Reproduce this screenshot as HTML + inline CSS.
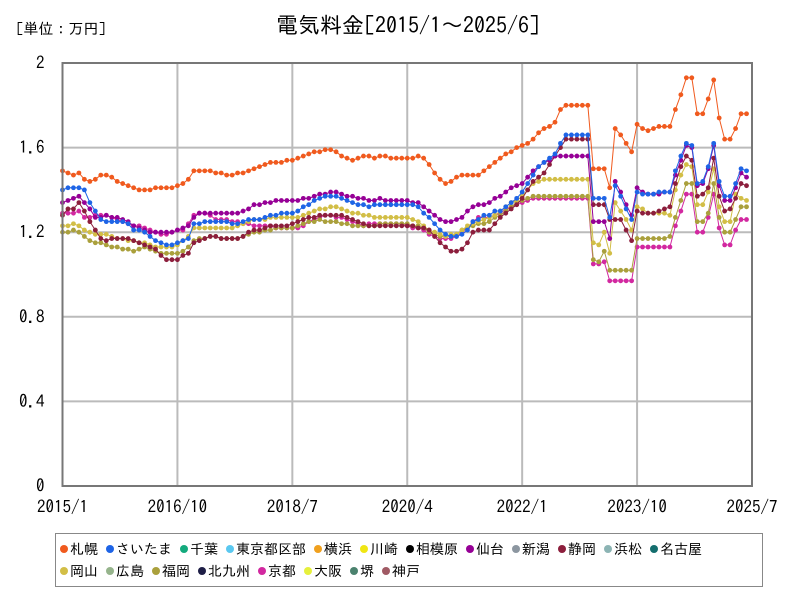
<!DOCTYPE html>
<html><head><meta charset="utf-8">
<style>
body{margin:0;background:#fff;width:800px;height:600px;overflow:hidden;font-family:"IPAGothic","Liberation Sans","Noto Sans CJK JP",sans-serif;}
#wrap{position:relative;width:800px;height:600px;}
.legend{position:absolute;left:55px;top:533px;width:708px;height:54px;border:1px solid #888;box-sizing:border-box;font-size:14px;color:#000;}
.row{position:absolute;left:4px;display:flex;gap:8px;white-space:nowrap;}
.it{display:flex;align-items:center;}
.dot{width:8px;height:8px;border-radius:50%;margin-right:2px;display:inline-block;}
svg text{font-family:"IPAGothic","Liberation Sans","Noto Sans CJK JP",sans-serif;}
</style></head><body>
<div id="wrap">
<svg id="svg" width="800" height="600" style="position:absolute;left:0;top:0">
<text x="16" y="34" font-size="15">[単位：万円]</text>
<text x="408" y="33" font-size="22" text-anchor="middle">電気料金[2015/1～2025/6]</text>
<g id="grid"></g><g id="series"></g><g id="axes"></g>
</svg>
<div class="legend">
<div class="row" style="top:8px" id="row1"></div>
<div class="row" style="top:30px" id="row2"></div>
</div>
</div>
<script>
const yTicks=[0,0.4,0.8,1.2,1.6,2];
const yTickLabels=["0","0.4","0.8","1.2","1.6","2"];
const xTickMonths=[0,21,42,63,84,105,126];
const xTickLabels=["2015/1","2016/10","2018/7","2020/4","2022/1","2023/10","2025/7"];
const legendNames=["札幌","さいたま","千葉","東京都区部","横浜","川崎","相模原","仙台","新潟","静岡","浜松","名古屋","岡山","広島","福岡","北九州","京都","大阪","堺","神戸"];
const legendColors=["#f05a1e","#1e64e6","#14aa7d","#5ac8f0","#f0a01e","#f0e614","#000000","#960096","#8c96a0","#8c1e3c","#8cb4b4","#146e6e","#d2be46","#96b48c","#aaa03c","#1e1e46","#d228a0","#e6f03c","#4b826e","#a05a64"];
const sapporo=[1.49,1.48,1.47,1.48,1.45,1.44,1.45,1.47,1.47,1.46,1.44,1.43,
1.42,1.41,1.40,1.40,1.40,1.41,1.41,1.41,1.41,1.42,1.43,1.45,
1.49,1.49,1.49,1.49,1.48,1.48,1.47,1.47,1.48,1.48,1.49,1.50,
1.51,1.52,1.53,1.53,1.53,1.54,1.54,1.55,1.56,1.57,1.58,1.58,
1.59,1.59,1.58,1.56,1.55,1.54,1.55,1.56,1.56,1.55,1.56,1.56,
1.55,1.55,1.55,1.55,1.55,1.56,1.55,1.52,1.48,1.45,1.43,1.44,
1.46,1.47,1.47,1.47,1.47,1.49,1.51,1.53,1.55,1.57,1.58,1.60,
1.61,1.62,1.64,1.67,1.69,1.70,1.72,1.78,1.80,1.80,1.80,1.80,
1.80,1.50,1.50,1.50,1.41,1.69,1.66,1.62,1.58,1.71,1.69,1.68,
1.69,1.70,1.70,1.70,1.78,1.85,1.93,1.93,1.76,1.76,1.83,1.92,
1.74,1.64,1.64,1.69,1.76,1.76];
const saitama=[1.40,1.41,1.41,1.41,1.40,1.34,1.30,1.26,1.25,1.25,1.25,1.25,
1.24,1.21,1.21,1.20,1.18,1.16,1.15,1.14,1.14,1.15,1.16,1.17,
1.24,1.24,1.25,1.25,1.25,1.25,1.25,1.24,1.24,1.25,1.26,1.26,
1.26,1.27,1.28,1.28,1.29,1.29,1.29,1.30,1.32,1.33,1.35,1.36,
1.37,1.37,1.37,1.36,1.35,1.34,1.33,1.33,1.32,1.33,1.33,1.33,
1.33,1.33,1.33,1.33,1.33,1.32,1.29,1.27,1.24,1.21,1.19,1.18,
1.18,1.19,1.21,1.25,1.26,1.28,1.28,1.30,1.30,1.32,1.34,1.36,
1.39,1.43,1.47,1.51,1.53,1.55,1.57,1.62,1.66,1.66,1.66,1.66,
1.66,1.36,1.36,1.36,1.27,1.42,1.37,1.31,1.26,1.39,1.38,1.38,
1.38,1.39,1.39,1.39,1.49,1.56,1.62,1.61,1.43,1.44,1.51,1.62,
1.44,1.37,1.37,1.43,1.50,1.49];
const sendai=[1.34,1.35,1.36,1.37,1.34,1.31,1.27,1.27,1.28,1.27,1.27,1.26,
1.25,1.23,1.22,1.21,1.20,1.20,1.20,1.20,1.20,1.21,1.22,1.23,
1.27,1.29,1.29,1.29,1.29,1.29,1.29,1.29,1.29,1.30,1.31,1.33,
1.33,1.34,1.34,1.35,1.35,1.35,1.35,1.35,1.36,1.36,1.37,1.38,
1.38,1.39,1.39,1.38,1.37,1.37,1.36,1.36,1.35,1.35,1.36,1.35,
1.35,1.35,1.35,1.35,1.34,1.34,1.32,1.30,1.28,1.26,1.25,1.25,
1.26,1.27,1.30,1.32,1.33,1.33,1.34,1.36,1.37,1.39,1.41,1.42,
1.43,1.46,1.49,1.51,1.53,1.54,1.56,1.56,1.56,1.56,1.56,1.56,
1.56,1.25,1.25,1.25,1.17,1.44,1.39,1.33,1.28,1.41,1.39,1.38,
1.38,1.38,1.39,1.39,1.47,1.54,1.61,1.60,1.42,1.43,1.50,1.61,
1.42,1.35,1.35,1.41,1.48,1.46];
const shizuoka=[1.28,1.31,1.31,1.34,1.30,1.25,1.21,1.17,1.16,1.17,1.17,1.17,
1.17,1.16,1.15,1.14,1.13,1.12,1.09,1.07,1.07,1.07,1.09,1.10,
1.15,1.16,1.17,1.18,1.18,1.17,1.17,1.17,1.17,1.18,1.20,1.21,
1.21,1.22,1.23,1.23,1.23,1.23,1.24,1.25,1.26,1.27,1.27,1.28,
1.28,1.28,1.28,1.28,1.27,1.26,1.25,1.24,1.23,1.23,1.23,1.23,
1.23,1.23,1.23,1.23,1.23,1.22,1.22,1.21,1.18,1.15,1.13,1.11,
1.11,1.12,1.15,1.20,1.21,1.21,1.21,1.24,1.27,1.29,1.31,1.33,
1.36,1.40,1.44,1.46,1.48,1.52,1.56,1.60,1.64,1.64,1.64,1.64,
1.64,1.33,1.33,1.33,1.26,1.26,1.26,1.21,1.16,1.30,1.29,1.29,
1.29,1.30,1.31,1.32,1.43,1.51,1.56,1.54,1.37,1.38,1.41,1.55,
1.37,1.30,1.31,1.36,1.43,1.42];
const okayama=[1.23,1.23,1.24,1.23,1.21,1.20,1.19,1.19,1.19,1.18,1.17,1.17,
1.16,1.16,1.15,1.15,1.14,1.13,1.13,1.13,1.13,1.14,1.16,1.18,
1.22,1.22,1.22,1.22,1.22,1.22,1.22,1.22,1.23,1.24,1.25,1.26,
1.26,1.26,1.27,1.27,1.27,1.27,1.27,1.27,1.28,1.29,1.30,1.31,
1.31,1.32,1.32,1.31,1.30,1.29,1.29,1.28,1.28,1.27,1.27,1.27,
1.27,1.27,1.27,1.27,1.26,1.25,1.23,1.21,1.20,1.19,1.18,1.19,
1.19,1.21,1.23,1.24,1.25,1.26,1.27,1.28,1.30,1.32,1.34,1.35,
1.37,1.40,1.43,1.44,1.45,1.45,1.45,1.45,1.45,1.45,1.45,1.45,
1.45,1.15,1.14,1.20,1.10,1.34,1.30,1.26,1.21,1.32,1.31,1.29,
1.29,1.29,1.29,1.28,1.40,1.47,1.52,1.51,1.33,1.33,1.39,1.50,
1.32,1.25,1.25,1.38,1.36,1.35];
const fukuoka=[1.20,1.20,1.21,1.20,1.18,1.16,1.15,1.15,1.14,1.13,1.13,1.12,
1.12,1.11,1.12,1.13,1.12,1.11,1.10,1.10,1.10,1.10,1.11,1.13,
1.16,1.17,1.17,1.18,1.18,1.17,1.17,1.17,1.17,1.18,1.19,1.20,
1.20,1.21,1.21,1.22,1.22,1.22,1.22,1.23,1.24,1.25,1.25,1.26,
1.25,1.25,1.25,1.24,1.24,1.23,1.23,1.23,1.23,1.23,1.24,1.24,
1.24,1.24,1.24,1.24,1.23,1.23,1.22,1.20,1.19,1.18,1.18,1.18,
1.19,1.21,1.22,1.23,1.24,1.24,1.25,1.27,1.28,1.30,1.32,1.34,
1.35,1.36,1.37,1.37,1.37,1.37,1.37,1.37,1.37,1.37,1.37,1.37,
1.37,1.07,1.06,1.11,1.02,1.02,1.02,1.02,1.02,1.17,1.17,1.17,
1.17,1.17,1.17,1.18,1.27,1.35,1.43,1.43,1.25,1.25,1.29,1.43,
1.27,1.20,1.20,1.26,1.32,1.32];
const kyoto=[1.29,1.29,1.29,1.30,1.27,1.27,1.28,1.28,1.28,1.27,1.26,1.25,
1.24,1.23,1.23,1.22,1.21,1.20,1.19,1.19,1.20,1.21,1.21,1.24,
1.28,1.29,1.29,1.28,1.26,1.26,1.26,1.25,1.25,1.24,1.24,1.23,
1.23,1.23,1.23,1.22,1.22,1.22,1.22,1.22,1.23,1.25,1.26,1.27,
1.28,1.28,1.27,1.27,1.26,1.25,1.24,1.23,1.24,1.24,1.24,1.24,
1.24,1.24,1.24,1.23,1.22,1.22,1.21,1.19,1.18,1.17,1.17,1.17,
1.18,1.20,1.22,1.25,1.27,1.27,1.27,1.28,1.29,1.31,1.32,1.33,
1.34,1.35,1.36,1.36,1.36,1.36,1.36,1.36,1.36,1.36,1.36,1.36,
1.36,1.05,1.05,1.06,0.97,0.97,0.97,0.97,0.97,1.13,1.13,1.13,
1.13,1.13,1.13,1.13,1.23,1.30,1.38,1.38,1.20,1.20,1.27,1.38,
1.22,1.14,1.14,1.21,1.26,1.26];

const L=62.5,R=752,T=63,B=486;
const xs=m=>L+m*(R-L)/126;
const ys=v=>B-v*(B-T)/2;
const NS="http://www.w3.org/2000/svg";
function mk(tag,attrs,parent){const e=document.createElementNS(NS,tag);for(const k in attrs)e.setAttribute(k,attrs[k]);parent.appendChild(e);return e;}
const grid=document.getElementById('grid'),axes=document.getElementById('axes'),sg=document.getElementById('series');
yTicks.forEach((v,i)=>{
  if(v>0&&v<2){const g=mk('line',{x1:L,x2:R,y1:ys(v),y2:ys(v),stroke:'#bbb','stroke-width':2},grid);
  
  }
  const t=mk('text',{x:L-18,y:ys(v)+6,'font-size':17,'text-anchor':'end'},axes);
  t.textContent=yTickLabels[i];
  
  
});
xTickMonths.forEach((m,i)=>{
  if(m>0&&m<126){const g=mk('line',{x1:xs(m),x2:xs(m),y1:T,y2:B,stroke:'#bbb','stroke-width':2},grid);
  
  }
  const t=mk('text',{x:xs(m),y:B+27,'font-size':17,'text-anchor':'middle'},axes);
  t.textContent=xTickLabels[i];
  
  
});
const frame=mk('rect',{x:L,y:T,width:R-L,height:B-T,fill:'none',stroke:'#777','stroke-width':2},axes);


const seriesList=[[kyoto,'#d228a0','kyoto'],[fukuoka,'#aaa03c','fukuoka'],[okayama,'#d2be46','okayama'],[shizuoka,'#8c1e3c','shizuoka'],[sendai,'#960096','sendai'],[saitama,'#1e64e6','saitama'],[sapporo,'#f05a1e','sapporo']];
seriesList.forEach(([d,c,n])=>{
  const g=mk('g',{},sg);
  
  
  const p=mk('polyline',{points:d.map((v,i)=>xs(i)+','+ys(v)).join(' '),fill:'none',stroke:c,'stroke-width':1},g);
  
  
  d.forEach((v,i)=>{const ci=mk('circle',{cx:xs(i),cy:ys(v),r:2.4,fill:c},g);
    
    });
});
legendNames.forEach((n,i)=>{
  const it=document.createElement('div');it.className='it';
  
  
  it.innerHTML='<span class="dot" style="background:'+legendColors[i]+'"></span>'+n;
  document.getElementById(i<12?'row1':'row2').appendChild(it);
});
</script>
</body></html>
